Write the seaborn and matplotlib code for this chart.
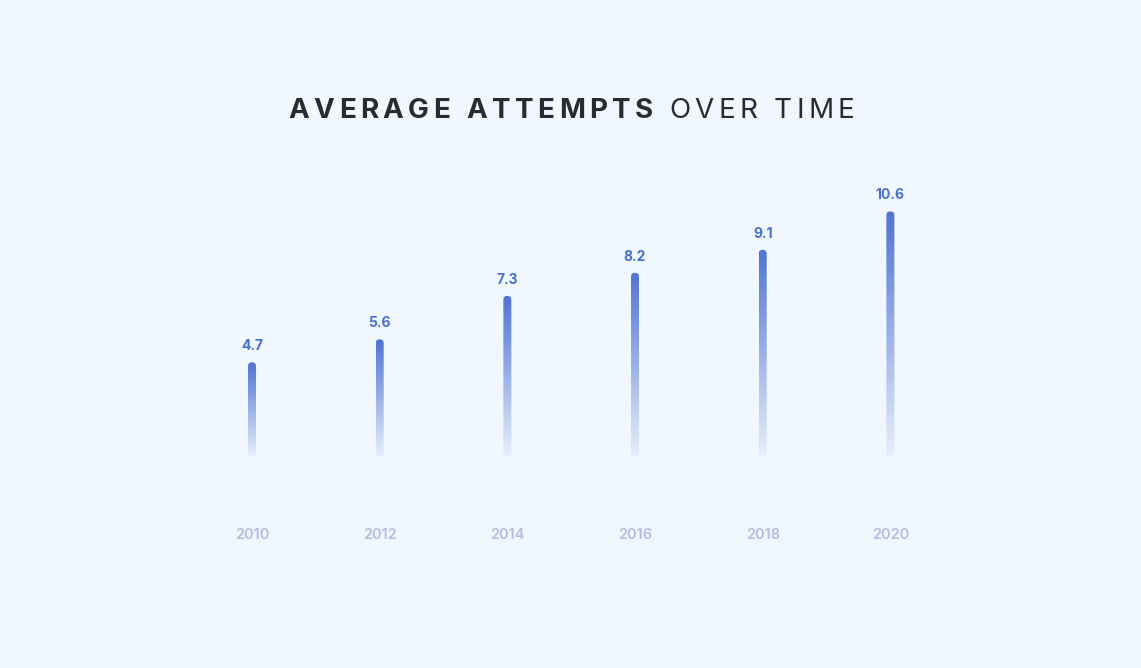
import numpy as np
import pandas as pd
import matplotlib
matplotlib.use("Agg")
import matplotlib.pyplot as plt
import seaborn as sns
from matplotlib.patches import FancyBboxPatch
from matplotlib.colors import to_rgb

# data
years = ["2010", "2012", "2014", "2016", "2018", "2020"]
attempts = [4.7, 5.6, 7.3, 8.2, 9.1, 10.6]
title_bold = "AVERAGE ATTEMPTS"
title_light = " OVER TIME"

df = pd.DataFrame({"year": years, "attempts": attempts})

bg = "#f0f7fe"
bar_color = "#4f73d1"
label_color = "#4a6fcf"
year_color = "#b1bee2"
title_color = "#2a2b2d"

sns.set_theme(style="white")
plt.rcParams["font.family"] = ["Inter", "DejaVu Sans"]

W, H = 1141, 668
fig = plt.figure(figsize=(W / 100, H / 100), dpi=100, facecolor=bg)
ax = fig.add_axes([188.2 / W, (H - 457) / H, 766 / W, 307 / H])
ax.set_facecolor(bg)

bar_w = 8 / 127.6
sns.barplot(data=df, x="year", y="attempts", width=bar_w, ax=ax)
ax.set_xlim(-0.5, 5.5)
ax.set_ylim(1.0, 13.0)
ymin = ax.get_ylim()[0]

# x units / px and y units / px -> aspect for rounded ends
x_per_px = 6.0 / 766
y_per_px = 12.0 / 307
aspect = y_per_px / x_per_px
radius = 4 * x_per_px

# vertical gradient, solid at the top fading out at the bottom
rgb = to_rgb(bar_color)
n = 256
grad = np.zeros((n, 1, 4))
grad[:, 0, :3] = rgb
grad[:, 0, 3] = np.linspace(1.0, 0.06, n)

for p in ax.patches:
    x0 = p.get_x()
    w = p.get_width()
    top = p.get_height()
    p.set_visible(False)
    clip = FancyBboxPatch((x0, ymin), w, top - ymin,
                          boxstyle=f"round,pad=0,rounding_size={radius}",
                          mutation_aspect=aspect, transform=ax.transData,
                          facecolor="none", edgecolor="none")
    ax.add_patch(clip)
    im = ax.imshow(grad, extent=[x0, x0 + w, ymin, top], aspect="auto",
                   interpolation="bilinear", zorder=3)
    im.set_clip_path(clip)
    ax.annotate(f"{top:.1f}", xy=(x0 + w / 2, top), xytext=(0, 16 * 0.72),
                textcoords="offset points", ha="center", va="center",
                fontsize=10, fontweight="bold", color=label_color)

for i, yr in enumerate(years):
    ax.annotate(yr, xy=(i, 0), xycoords=("data", "axes fraction"),
                xytext=(0, -78 * 0.72), textcoords="offset points",
                ha="center", va="center", fontsize=10.5, fontweight="semibold",
                color=year_color)

ax.set_xlim(-0.5, 5.5)
ax.set_ylim(1.0, 13.0)
ax.set_aspect("auto")
ax.axis("off")

# letter-spaced title
renderer = fig.canvas.get_renderer()
spacing = 4.4
title_size = 20
pieces = [(c, "bold") for c in title_bold] + [(c, "normal") for c in title_light]
widths = []
for c, wt in pieces:
    if c == " ":
        widths.append(title_size * 100 / 72 * 0.28)
        continue
    t = fig.text(0, 0, c, fontsize=title_size, fontweight=wt)
    widths.append(t.get_window_extent(renderer).width)
    t.remove()
total = sum(widths) + spacing * (len(pieces) - 1)
x = (W - total) / 2 + 1
for (c, wt), w in zip(pieces, widths):
    if c != " ":
        fig.text(x / W, 1 - 111 / H, c, fontsize=title_size, fontweight=wt,
                 color=title_color, ha="left", va="center")
    x += w + spacing

fig.savefig("out.png", dpi=100, facecolor=bg)
